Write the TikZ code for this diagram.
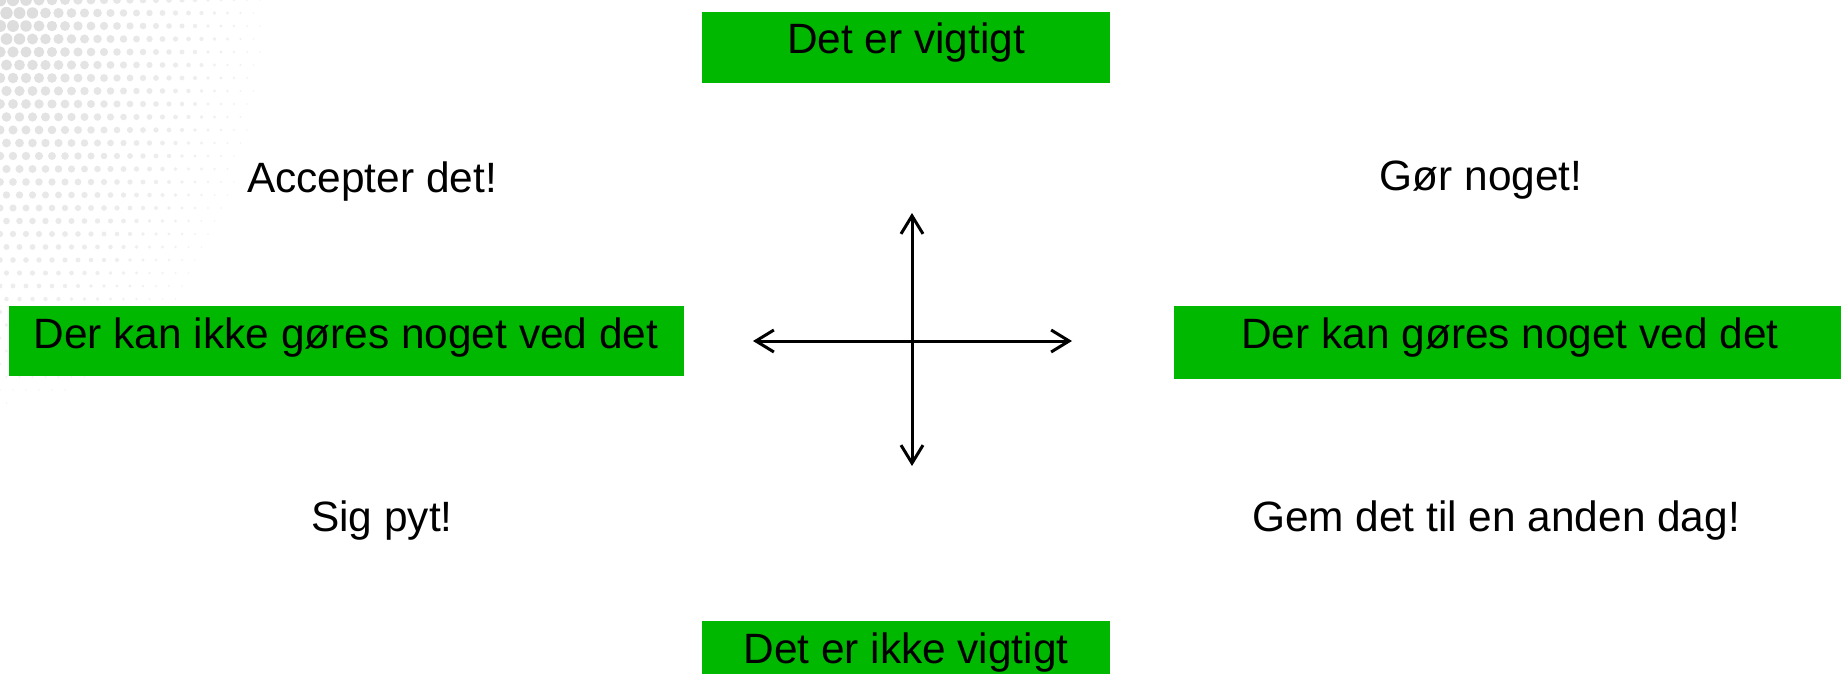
\documentclass[tikz,border=0pt]{standalone}
\usepackage{fontspec}
\setmainfont{Liberation Sans}
\usetikzlibrary{arrows.meta}
\definecolor{boxgreen}{RGB}{0,184,0}
\tikzset{
  gbox/.style={fill=boxgreen, draw=none, inner sep=0pt},
  lbl/.style={anchor=base, inner sep=0pt, font=\fontsize{21.2}{25}\selectfont, text=black},
  axis/.style={line width=1.5pt, {Straight Barb[length=9pt,width=11pt,line width=1.5pt]}-{Straight Barb[length=9pt,width=11pt,line width=1.5pt]}}
}
\begin{document}
\begin{tikzpicture}[x=0.5pt,y=-0.5pt]
\useasboundingbox[fill=white] (0,0) rectangle (1841,674);
% halftone texture
\foreach \i in {0,...,24} {
  \foreach \j in {0,...,32} {
    \pgfmathsetmacro\px{\i*13+mod(\j,2)*6.5}
    \pgfmathsetmacro\py{\j*13}
    \pgfmathsetmacro\d{100*sqrt((\px/100)^2+(0.65*\py/100)^2)}
    \pgfmathsetmacro\r{3.2*(1-\d/300)}
    \pgfmathsetmacro\c{3+11*(1-\d/300)}
    \ifdim\r pt>0.4pt
      \fill[black!\c] (\px,\py) circle[radius=\r pt];
    \fi
  }
}
% green boxes
\node[gbox, minimum width=204pt, minimum height=35.5pt] (top) at (906,47.5) {};
\node[gbox, minimum width=337.5pt, minimum height=35pt] (left) at (346.5,341) {};
\node[gbox, minimum width=333.5pt, minimum height=36.5pt] (right) at (1507.5,342.5) {};
\node[gbox, minimum width=204pt, minimum height=26.5pt] (bottom) at (906,647.5) {};
\node[lbl] (toptxt) at (906,54) {Det er vigtigt};
\node[lbl] (lefttxt) at (346,348) {Der kan ikke gøres noget ved det};
\node[lbl] (righttxt) at (1510,348) {Der kan gøres noget ved det};
\node[lbl] (bottomtxt) at (906,663) {Det er ikke vigtigt};
% quadrant texts
\node[lbl] (q1) at (372,192) {Accepter det!};
\node[lbl] (q2) at (1481,191) {Gør noget!};
\node[lbl] (q3) at (382,531) {Sig pyt!};
\node[lbl] (q4) at (1496,531) {Gem det til en anden dag!};
% cross
\coordinate (up) at (912,213);
\coordinate (down) at (912,466);
\coordinate (west) at (753,341);
\coordinate (east) at (1072,341);
\draw[axis] (down) -- (up);
\draw[axis] (west) -- (east);
\end{tikzpicture}
\end{document}
